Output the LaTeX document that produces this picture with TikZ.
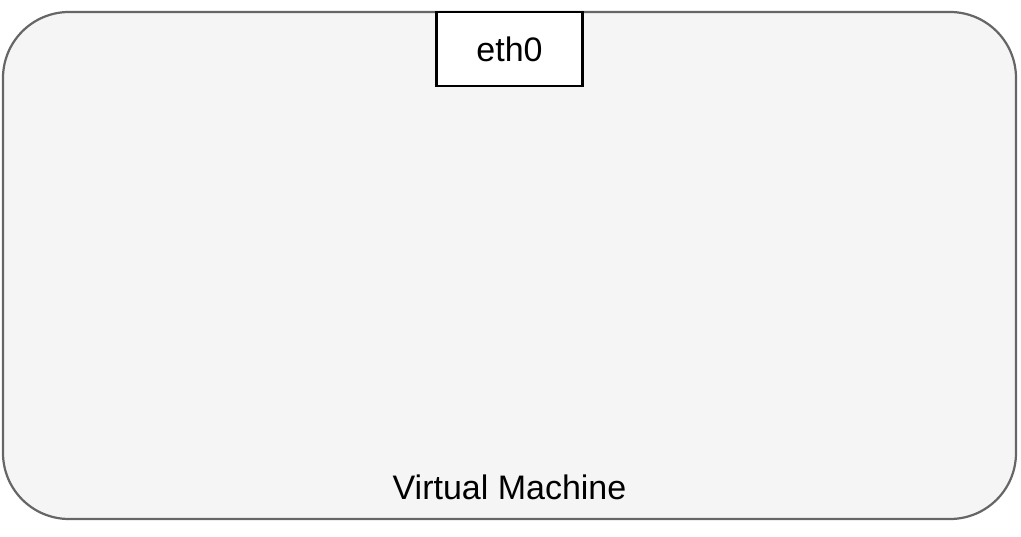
\documentclass[tikz,border=0pt]{standalone}
\usepackage{fontspec}
\setmainfont{Liberation Sans}
\usetikzlibrary{positioning}

\definecolor{vmfill}{HTML}{F5F5F5}
\definecolor{vmline}{HTML}{666666}

\begin{document}
\begin{tikzpicture}[x=1pt, y=1pt, font=\fontsize{34}{40}\selectfont]
    % Fix the page to the reference size
    \useasboundingbox (0,0) rectangle (1021,536);

    % Draw the virtual machine box
    \node[draw=vmline, fill=vmfill, line width=2.2pt, rounded corners=66pt,
          minimum width=1013pt, minimum height=507pt, inner sep=0pt] (vm) at (509.5,270.5) {};

    % Draw the interface on the top edge
    \node[draw=black, fill=white, line width=2.2pt, minimum width=146pt, minimum height=74pt,
          inner sep=0pt, anchor=north] (eth) at (vm.north) {eth0};

    % Annotations
    \node[anchor=base, inner sep=0pt] (vmlabel) at ([yshift=21pt]vm.south) {Virtual Machine};
\end{tikzpicture}
\end{document}
